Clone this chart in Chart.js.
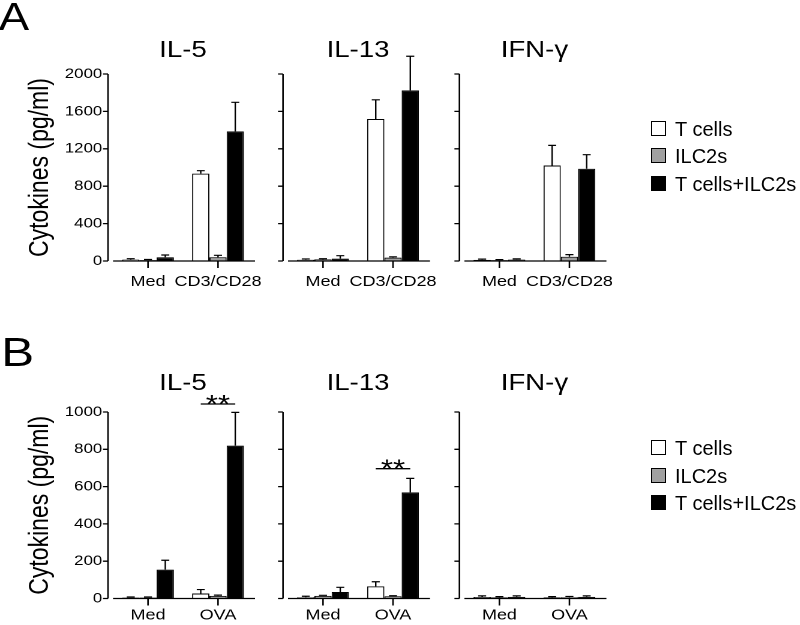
<!DOCTYPE html>
<html>
<head>
<meta charset="utf-8">
<script src="https://cdn.jsdelivr.net/npm/chart.js@4.4.0/dist/chart.umd.min.js"></script>
<style>
  body { margin: 0; width: 800px; height: 625px; overflow: hidden; background: #fff;
         font-family: "Liberation Sans", Arial, sans-serif; color: #000; }
  /* the original figure is stretched sideways, so the panels are drawn narrow and scaled */
  #stretch { position: absolute; left: 0; top: 0; width: 667px; height: 625px;
             transform: scaleX(1.2); transform-origin: 0 0; }
  #stretch canvas { position: absolute; }
  .letter { position: absolute; line-height: 1; }
  .key { position: absolute; width: 13px; height: 13px; border: 1px solid #000; }
  .keytext { position: absolute; font-size: 20px; line-height: 20px; white-space: nowrap; }
</style>
</head>
<body>
<div id="stretch">
  <div class="letter" style="left:-1px; top:-2px; font-size:38px;">A</div>
  <div class="letter" style="left:1px; top:332px; font-size:41px;">B</div>
</div>
<div id="legends"></div>

<script>
// ---- data ----
const cytokines = ['IL-5', 'IL-13', 'IFN-γ'];
const seriesNames = ['T cells', 'ILC2s', 'T cells+ILC2s'];
const groupsA = ['Med', 'CD3/CD28'];
const groupsB = ['Med', 'OVA'];
const ticksA = [0, 400, 800, 1200, 1600, 2000];
const ticksB = [0, 200, 400, 600, 800, 1000];

// A: per cytokine, [Med, CD3/CD28]
const tCellsA = [[15, 934], [14, 1519], [12, 1021]];
const tCellsErrA = [[10, 32], [8, 205], [8, 216]];
const ilc2A = [[10, 40], [18, 36], [10, 46]];
const ilc2ErrA = [[6, 21], [7, 9], [5, 22]];
const mixA = [[40, 1387], [25, 1825], [15, 986]];
const mixErrA = [[24, 310], [32, 365], [8, 151]];

// B: per cytokine, [Med, OVA]
const tCellsB = [[5, 27], [7, 65], [8, 6]];
const tCellsErrB = [[3, 21], [5, 25], [6, 4]];
const ilc2B = [[5, 14], [14, 12], [6, 7]];
const ilc2ErrB = [[3, 4], [3, 3], [4, 4]];
const mixB = [[155, 820], [35, 569], [9, 9]];
const mixErrB = [[50, 178], [25, 75], [5, 5]];

// significance over the OVA group in B
const sigLabelB = ['**', '**', ''];
const sigLevelB = [1043, 696, null];

// ---- layout ----
const S = 1.2;
const FONT = '"Liberation Sans", Arial, sans-serif';
const areaLeft = [113, 288, 464];   // page px where each plot area starts
const areaWidth = 140;
const PAD_TOP = 50;
const colors = ['#ffffff', '#a0a0a0', '#000000'];

const rows = [
  { top: 74, bottom: 261, titleBase: 57, labelPad: 12, groups: groupsA, ticks: ticksA,
    means: [tCellsA, ilc2A, mixA], errs: [tCellsErrA, ilc2ErrA, mixErrA], legendTop: 120.7 },
  { top: 412, bottom: 598.5, titleBase: 390, labelPad: 8, groups: groupsB, ticks: ticksB,
    means: [tCellsB, ilc2B, mixB], errs: [tCellsErrB, ilc2ErrB, mixErrB], legendTop: 440,
    sigLabel: sigLabelB, sigLevel: sigLevelB }
];

Chart.defaults.font.family = FONT;
Chart.defaults.color = '#000';

// axes, error bars, panel title and significance bar
const panelDeco = {
  id: 'panelDeco',
  afterDatasetsDraw(chart, args, opts) {
    const ctx = chart.ctx;
    const ys = chart.scales.y, xs = chart.scales.x, area = chart.chartArea;
    ctx.save();
    ctx.strokeStyle = '#000';
    ctx.lineWidth = 1.2;

    chart.data.datasets.forEach((ds, d) => {
      chart.getDatasetMeta(d).data.forEach((bar, k) => {
        const top = ys.getPixelForValue(ds.data[k] + ds.err[k]);
        const half = 4 / S;
        ctx.beginPath();
        ctx.moveTo(bar.x, bar.y);
        ctx.lineTo(bar.x, top);
        ctx.moveTo(bar.x - half, top);
        ctx.lineTo(bar.x + half, top);
        ctx.stroke();
      });
    });

    const y0 = ys.getPixelForValue(0);
    const yTop = ys.getPixelForValue(ys.max);
    const ax = area.left - 5 / S;
    ctx.lineWidth = 1.3;
    ctx.beginPath();
    ctx.moveTo(ax, yTop);
    ctx.lineTo(ax, y0);
    opts.ticks.forEach(v => {
      const p = ys.getPixelForValue(v);
      ctx.moveTo(ax - 5 / S, p);
      ctx.lineTo(ax, p);
    });
    ctx.moveTo(area.left, y0);
    ctx.lineTo(area.right + 2 / S, y0);
    xs.ticks.forEach((t, k) => {
      const p = xs.getPixelForTick(k);
      ctx.moveTo(p, y0);
      ctx.lineTo(p, y0 + 7);
    });
    ctx.stroke();

    ctx.fillStyle = '#000';
    ctx.font = '23px ' + FONT;
    ctx.textAlign = 'center';
    ctx.textBaseline = 'alphabetic';
    ctx.fillText(opts.title, (area.left + area.right) / 2, opts.titleY);

    if (opts.sigLevel != null) {
      const first = chart.getDatasetMeta(0).data[1];
      const last = chart.getDatasetMeta(2).data[1];
      const ly = ys.getPixelForValue(opts.sigLevel);
      ctx.lineWidth = 1.3;
      ctx.beginPath();
      ctx.moveTo(first.x, ly);
      ctx.lineTo(last.x, ly);
      ctx.stroke();
      ctx.font = '26px ' + FONT;
      ctx.fillText(opts.sigLabel, (first.x + last.x) / 2, ly + 9);
    }
    ctx.restore();
  }
};

function makePanel(r, i) {
  const row = rows[r];
  const cl = i === 0 ? 0 : areaLeft[i] / S - 16;
  const yW = areaLeft[i] / S - cl;
  const cw = Math.round(yW + areaWidth / S + 30);
  const ct = row.top - PAD_TOP;
  const ch = Math.round(PAD_TOP + (row.bottom - row.top) + 40);
  const xH = ch - PAD_TOP - (row.bottom - row.top);
  const wantRight = yW + areaWidth / S;

  const canvas = document.createElement('canvas');
  canvas.width = cw;
  canvas.height = ch;
  canvas.style.left = cl + 'px';
  canvas.style.top = ct + 'px';
  document.getElementById('stretch').appendChild(canvas);

  const datasets = seriesNames.map((name, s) => ({
    label: name,
    data: row.means[s][i],
    err: row.errs[s][i],
    backgroundColor: colors[s],
    borderColor: '#000',
    borderWidth: 1,
    categoryPercentage: 0.74,
    barPercentage: 1.0
  }));

  const chart = new Chart(canvas, {
    type: 'bar',
    data: { labels: row.groups, datasets: datasets },
    options: {
      responsive: false,
      animation: false,
      devicePixelRatio: 2,
      layout: { autoPadding: false, padding: { top: PAD_TOP, left: 0, right: cw - wantRight, bottom: 0 } },
      plugins: {
        legend: { display: false },
        tooltip: { enabled: false },
        panelDeco: {
          title: cytokines[i],
          titleY: row.titleBase - ct,
          ticks: row.ticks,
          sigLabel: row.sigLabel ? row.sigLabel[i] : '',
          sigLevel: row.sigLevel ? row.sigLevel[i] : null
        }
      },
      scales: {
        x: {
          offset: true,
          grid: { display: false, drawTicks: false },
          border: { display: false },
          ticks: { font: { size: 15 }, padding: row.labelPad, maxRotation: 0, autoSkip: false },
          afterFit: s => { s.height = xH; }
        },
        y: {
          min: 0,
          max: row.ticks[row.ticks.length - 1],
          grid: { display: false, drawTicks: false },
          border: { display: false },
          afterBuildTicks: s => { s.ticks = row.ticks.map(v => ({ value: v })); },
          ticks: { display: i === 0, font: { size: 14 }, padding: 9, callback: v => String(v) },
          title: {
            display: i === 0,
            text: 'Cytokines (pg/ml)',
            font: { size: 23 },
            padding: { top: 20, bottom: 0 }
          },
          afterFit: s => { s.width = yW; }
        }
      }
    },
    plugins: [panelDeco]
  });

  // the layout keeps some room on the right for the last label; take it back
  const extra = wantRight - chart.chartArea.right;
  if (Math.abs(extra) > 0.2) {
    chart.options.layout.padding.right -= extra;
    chart.update();
  }
}

// legends (not stretched)
function makeLegend(top) {
  const box = document.getElementById('legends');
  seriesNames.forEach((name, s) => {
    const y = top + s * 27.5;
    const key = document.createElement('div');
    key.className = 'key';
    key.style.left = '651px';
    key.style.top = y + 'px';
    key.style.background = colors[s];
    box.appendChild(key);
    const label = document.createElement('div');
    label.className = 'keytext';
    label.style.left = '675px';
    label.style.top = (y + 15 - 16.9) + 'px';
    label.textContent = name;
    box.appendChild(label);
  });
}

rows.forEach((row, r) => {
  cytokines.forEach((c, i) => makePanel(r, i));
  makeLegend(row.legendTop);
});
</script>
</body>
</html>
